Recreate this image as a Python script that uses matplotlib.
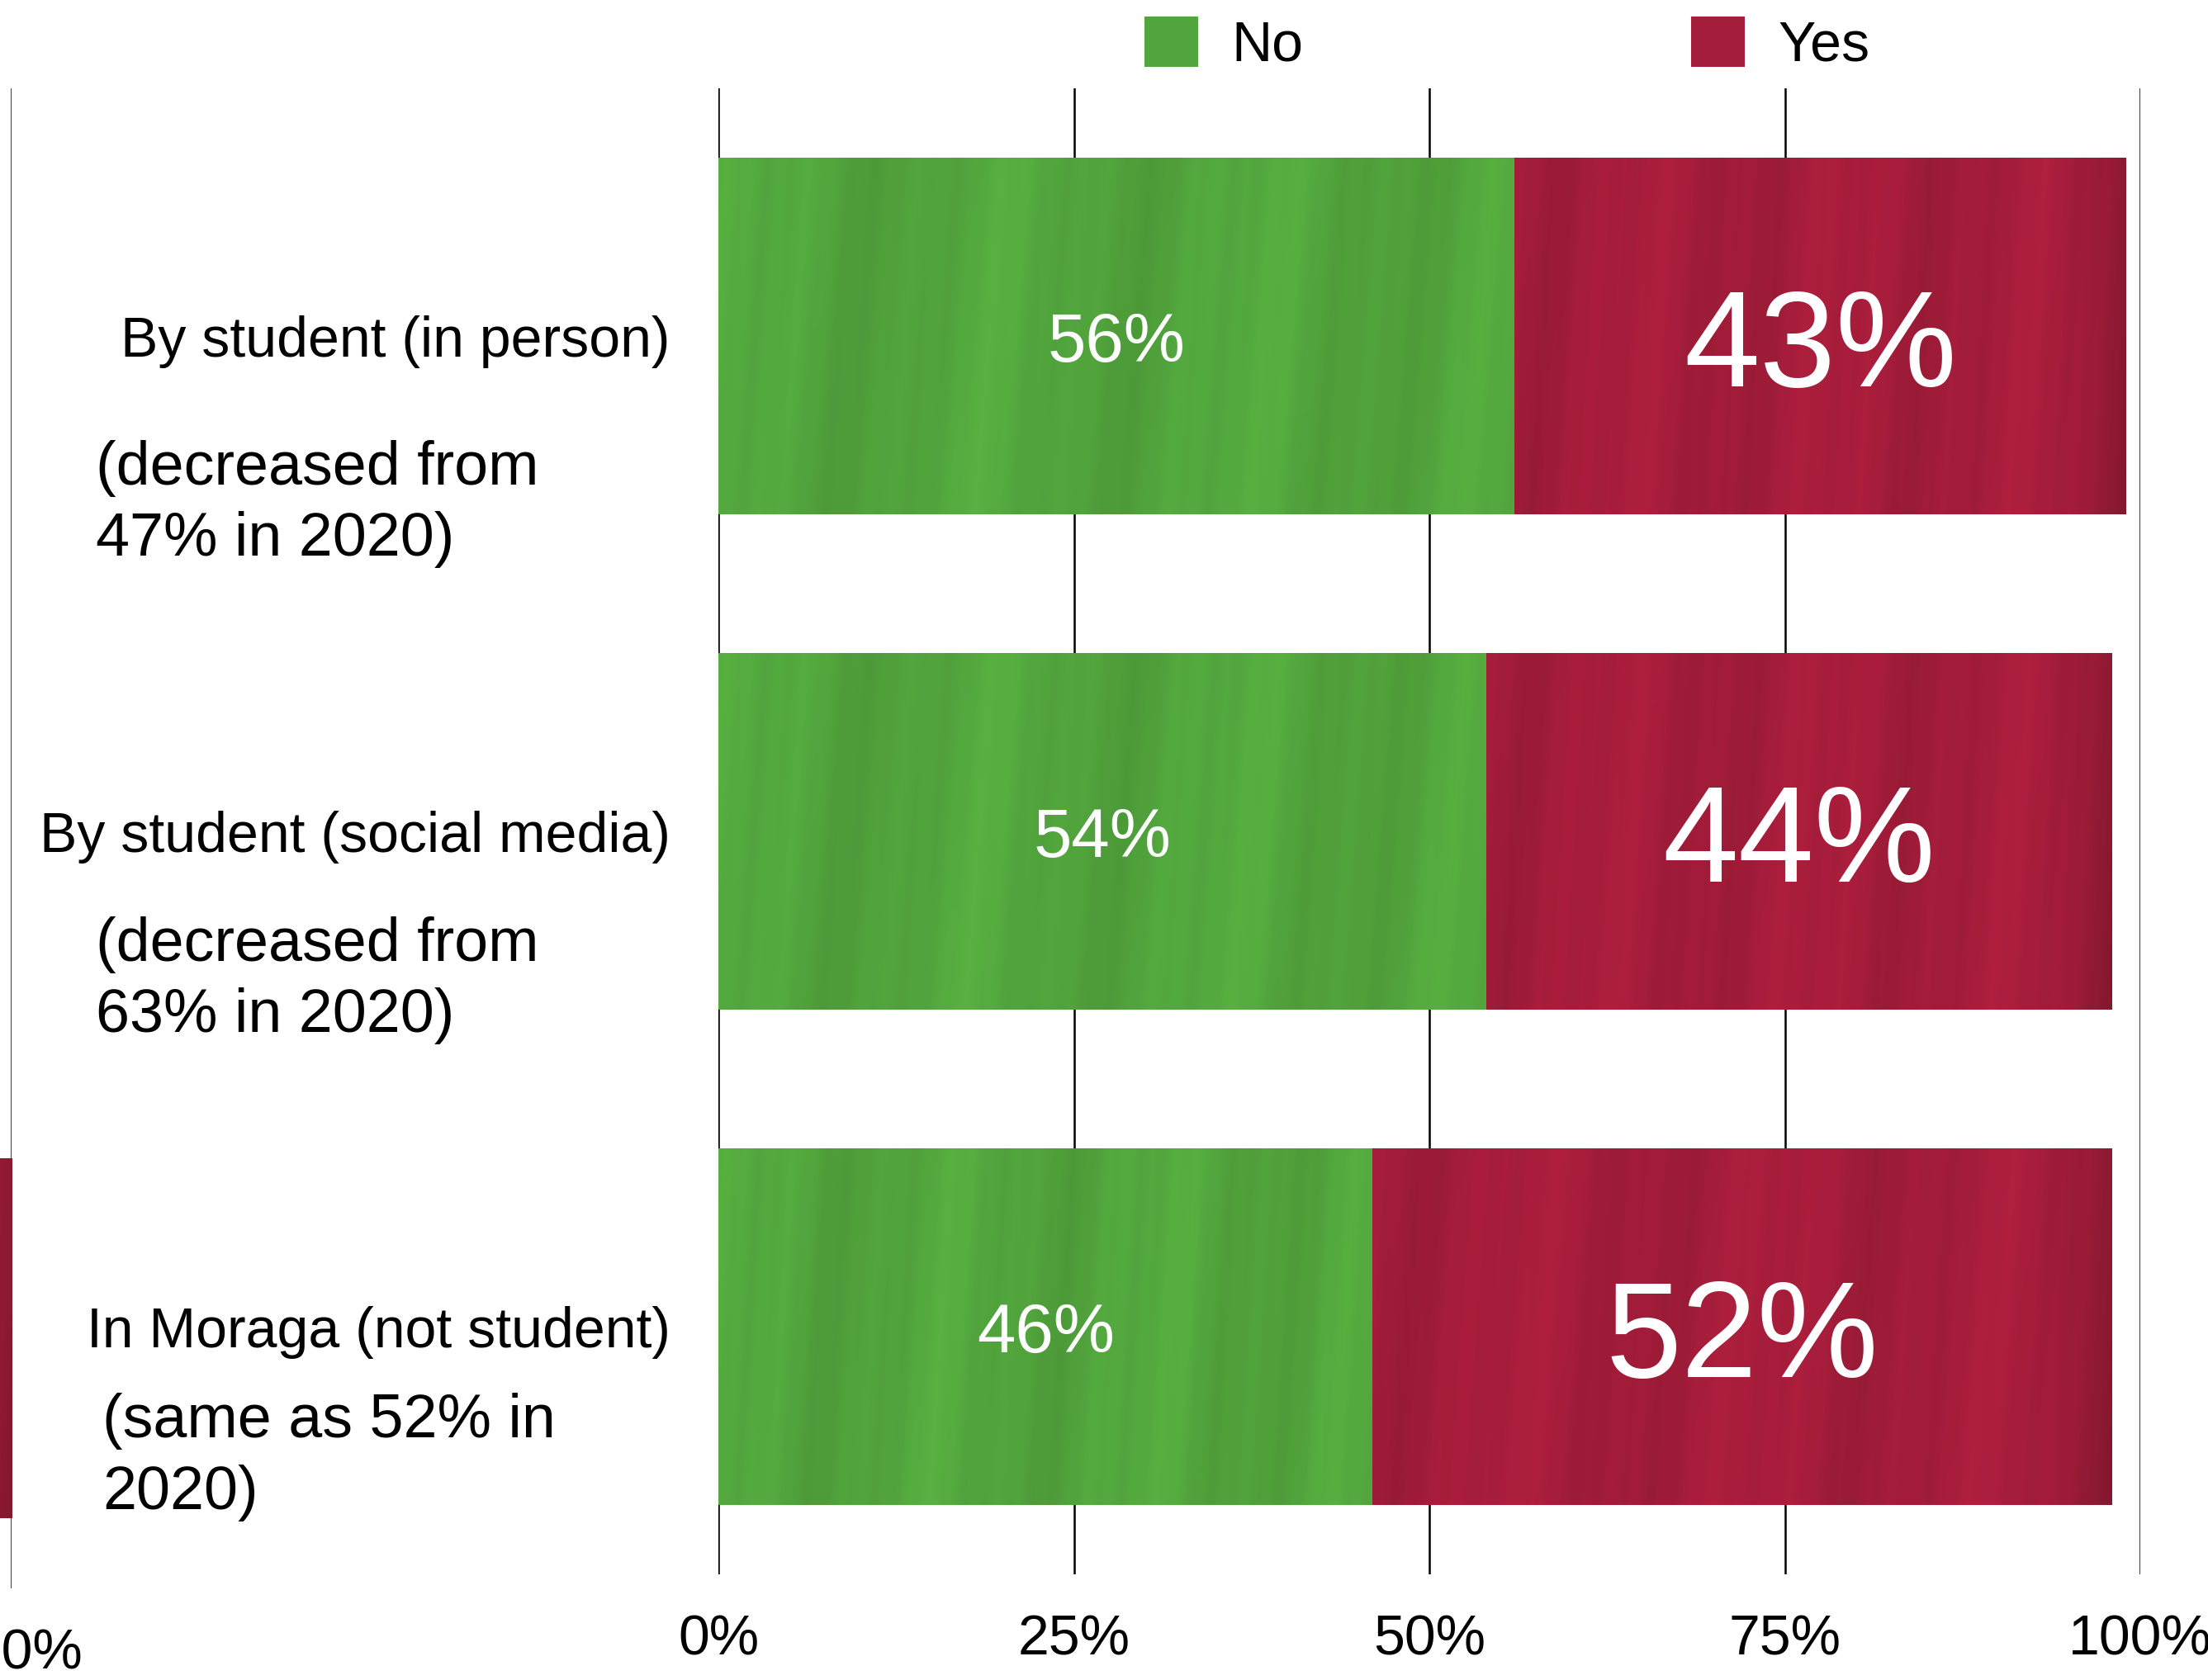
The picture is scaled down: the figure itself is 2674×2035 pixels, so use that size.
import numpy as np
import matplotlib.pyplot as plt
from matplotlib.colors import to_rgb

plt.rcParams['font.family'] = ['Liberation Sans', 'DejaVu Sans']

categories = ['By student (in person)', 'By student (social media)', 'In Moraga (not student)']
no_2022 = [56, 54, 46]
yes_2022 = [43, 44, 52]
notes = ['(decreased from\n47% in 2020)', '(decreased from\n63% in 2020)', '(same as 52% in\n2020)']

# 2020 panel sits to the left, only its right edge lands on the canvas
no_2020 = [51, 35, 48]
yes_2020 = [47, 63, 52]

ticks = [0, 25, 50, 75, 100]
tick_labels = ['0%', '25%', '50%', '75%', '100%']

GREEN = '#52a53d'
RED = '#a41d3a'

fig = plt.figure(figsize=(26.74, 20.35), dpi=100)


def brush(ax, patch, base, phase, dark_end=0.0):
    # soft painted streaks laid over a bar, clipped to it
    x0, y0 = patch.get_x(), patch.get_y()
    w, h = patch.get_width(), patch.get_height()
    u = np.linspace(0, 1, 600)
    v = np.linspace(0, 1, 80)
    U, V = np.meshgrid(u, v)
    shade = (1
             + 0.04 * np.sin(2 * np.pi * (3.1 * U + 0.15 * V + phase))
             + 0.025 * np.sin(2 * np.pi * (8.3 * U + 0.4 * V + 2 * phase))
             + 0.01 * np.sin(2 * np.pi * (29.0 * U + 0.9 * V)))
    if dark_end:
        shade -= dark_end * np.clip((U - 0.88) / 0.12, 0, 1) ** 1.5
    rgb = np.clip(np.array(to_rgb(base))[None, None, :] * shade[..., None], 0, 1)
    im = ax.imshow(rgb, extent=(x0, x0 + w, y0 + h, y0), aspect='auto',
                   interpolation='bilinear', zorder=2.5)
    im.set_clip_path(patch)


def panel(rect, no_vals, yes_vals):
    ax = fig.add_axes(rect)
    rows = np.arange(len(no_vals))
    b_no = ax.barh(rows, no_vals, height=0.72, color=GREEN, zorder=2)
    b_yes = ax.barh(rows, yes_vals, left=no_vals, height=0.72, color=RED, zorder=2)
    for p in b_no.patches:
        brush(ax, p, GREEN, 0.1)
    for p in b_yes.patches:
        brush(ax, p, RED, 0.55, dark_end=0.12)
    ax.set_xlim(0, 100)
    ax.set_ylim(2.5, -0.5)
    ax.set_xticks(ticks, tick_labels, fontsize=49)
    ax.tick_params(axis='x', length=0, pad=34)
    ax.grid(axis='x', color='black', lw=1.8, zorder=0)
    ax.set_axisbelow(True)
    for s in ax.spines.values():
        s.set_visible(False)
    return ax, rows, b_no, b_yes


# old panel
ax0, _, _, _ = panel([-0.6387, 0.0545, 0.644, 0.8929], no_2020, yes_2020)
ax0.set_yticks([])

# main panel
ax, rows, b_no, b_yes = panel([0.3254, 0.0629, 0.644, 0.8845], no_2022, yes_2022)
ax.set_yticks(rows, categories, fontsize=49)
ax.tick_params(axis='y', length=0, pad=42)

# value labels centred in each segment (nudged down so the digits sit centred)
for r, n, y in zip(rows, no_2022, yes_2022):
    ax.annotate(f'{n}%', (n / 2, r), xytext=(0, -0.11 * 60), textcoords='offset points',
                ha='center', va='center', fontsize=60, color='white', zorder=4)
    ax.annotate(f'{y}%', (n + y / 2, r), xytext=(0, -0.11 * 119), textcoords='offset points',
                ha='center', va='center', fontsize=119, color='white', zorder=4)

# notes under each category
note_pos = [(0.0434, 0.7000), (0.0434, 0.4165), (0.0464, 0.1325)]
for (x, y), txt in zip(note_pos, notes):
    fig.text(x, y, txt, fontsize=53, ha='left', va='center', linespacing=1.33)

fig.legend(handles=[b_no, b_yes], labels=['No', 'Yes'], loc='center left',
           bbox_to_anchor=(0.5183, 0.9735), ncol=2, frameon=False, fontsize=49,
           handlelength=0.95, handleheight=1.0, handletextpad=0.6,
           columnspacing=6.9, borderpad=0, borderaxespad=0)

fig.savefig('out.png', dpi=100)
